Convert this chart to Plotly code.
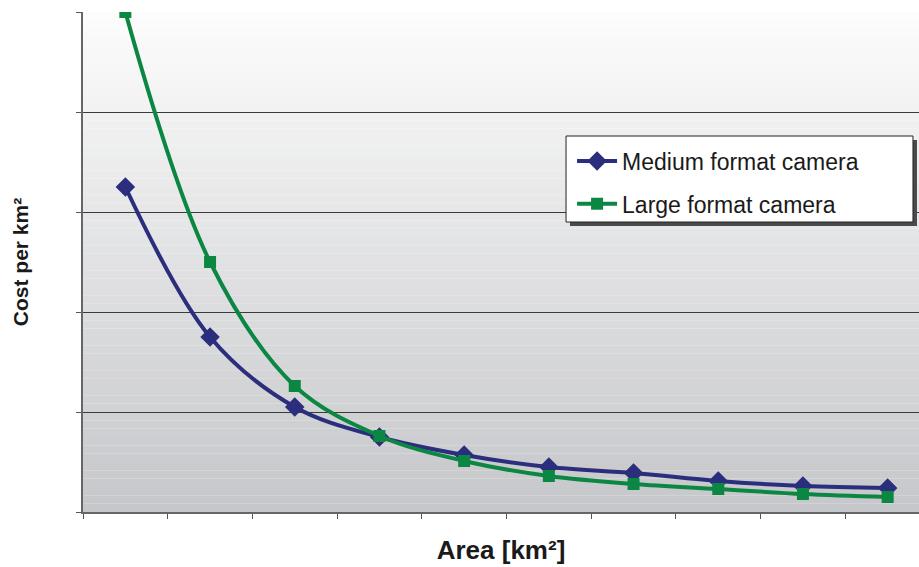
import plotly.graph_objects as go

# Area categories (no labels shown on the original axis)
areas = ["1", "2", "3", "4", "5", "6", "7", "8", "9", "10"]
medium_cost = [3.25, 1.75, 1.05, 0.75, 0.57, 0.45, 0.39, 0.31, 0.26, 0.24]
large_cost = [5.0, 2.5, 1.26, 0.76, 0.51, 0.36, 0.28, 0.23, 0.18, 0.15]

NAVY = "#2B2E7C"
GREEN = "#0C8743"
FONT = "Liberation Sans, Arial, sans-serif"

fig = go.Figure()

fig.add_trace(go.Scatter(
    x=areas, y=medium_cost, name="Medium format camera",
    mode="lines+markers", legendgroup="m",
    line=dict(color=NAVY, width=4, shape="spline", smoothing=1),
    marker=dict(symbol="diamond", size=15, color=NAVY),
))
fig.add_trace(go.Scatter(
    x=areas, y=large_cost, name="Large format camera",
    mode="lines+markers", legendgroup="l",
    line=dict(color=GREEN, width=4, shape="spline", smoothing=1),
    marker=dict(symbol="square", size=12, color=GREEN),
))

# vertical gradient background of the plot area
n_bands = 60
top, bottom = (252, 252, 252), (198, 199, 202)
shapes = []
for i in range(n_bands):
    t = i / (n_bands - 1)
    c = tuple(round(top[k] + (bottom[k] - top[k]) * t) for k in range(3))
    shapes.append(dict(
        type="rect", xref="x domain", yref="y domain",
        x0=0, x1=1, y0=1 - (i + 1) / n_bands, y1=1 - i / n_bands,
        fillcolor="rgb(%d,%d,%d)" % c, line=dict(width=0), layer="below",
    ))

# legend frame with drop shadow (legend itself is drawn transparent on top)
shapes.append(dict(
    type="rect", xref="paper", yref="paper",
    x0=0.5825, x1=0.9976, y0=0.572, y1=0.744,
    fillcolor="#4a4a4a", line=dict(width=0), layer="above",
))
shapes.append(dict(
    type="rect", xref="paper", yref="paper",
    x0=0.5778, x1=0.9928, y0=0.580, y1=0.752,
    fillcolor="white", line=dict(color="#222", width=1), layer="above",
))

fig.update_layout(
    width=919, height=567,
    margin=dict(l=83, r=0, t=12, b=55),
    paper_bgcolor="white",
    plot_bgcolor="white",
    font=dict(family=FONT, color="#1a1a1a"),
    shapes=shapes,
    showlegend=True,
    legend=dict(
        x=0.585, y=0.745, xanchor="left", yanchor="top",
        bgcolor="rgba(0,0,0,0)", borderwidth=0,
        font=dict(size=23, family=FONT, color="#1a1a1a"),
        traceorder="grouped", tracegroupgap=10, itemwidth=40,
    ),
)

fig.update_xaxes(
    type="category", range=[-0.5, 9.37],
    showgrid=False, showticklabels=False,
    ticks="outside", ticklen=5, tickcolor="#555", tickson="boundaries",
    showline=True, linecolor="#666", linewidth=2,
    title=dict(text="Area [km²]", font=dict(size=26, family=FONT, weight="bold"), standoff=28),
)
fig.update_yaxes(
    range=[0, 5], dtick=1, showticklabels=False,
    showgrid=True, gridcolor="#3a3a3a", gridwidth=1,
    ticks="outside", ticklen=5, tickcolor="#555",
    showline=True, linecolor="#666", linewidth=1.5,
    zeroline=False,
    title=dict(text="Cost per km²", font=dict(size=21, family=FONT, weight="bold"), standoff=42),
)

# drop the default page margin so the 919x567 figure fills the window
fig.write_html(
    "out.html",
    config={"displayModeBar": False},
    post_script="document.body.style.margin='0';",
)
